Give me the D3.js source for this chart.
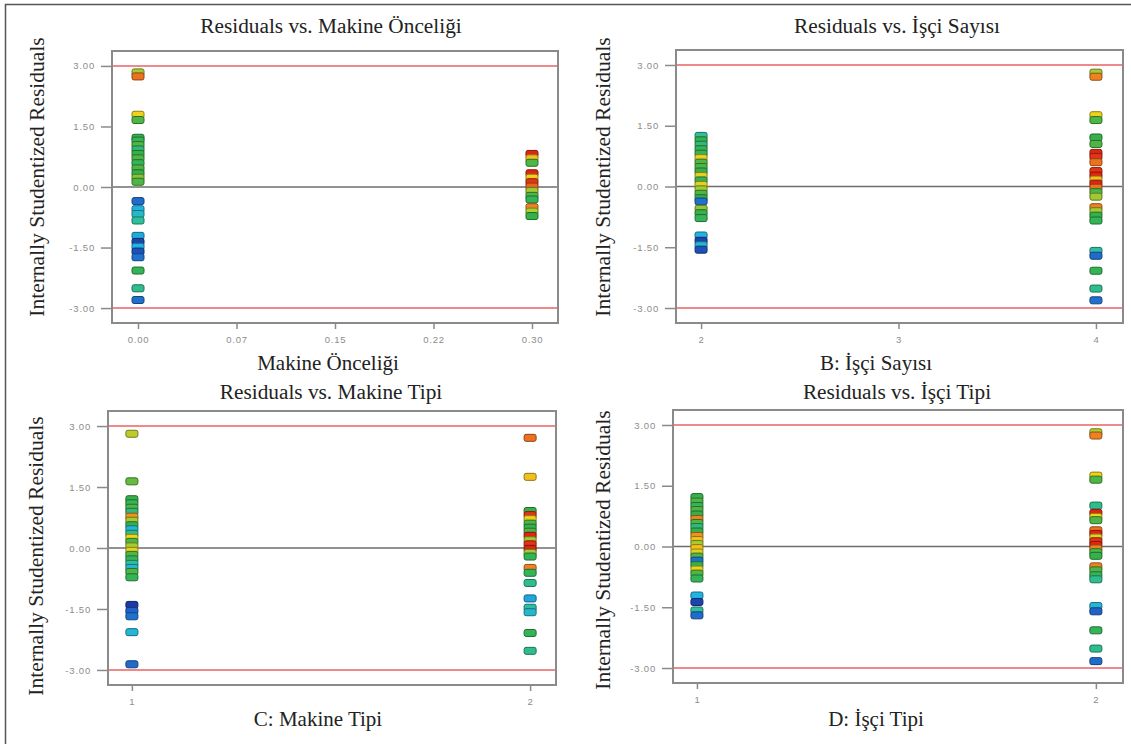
<!DOCTYPE html>
<html>
<head>
<meta charset="utf-8">
<script src="https://cdn.jsdelivr.net/npm/d3@7"></script>
<style>
  body { margin: 0; background: #fff; }
  text { font-family: "Liberation Serif", "Times New Roman", serif; }
  .tick text { font-family: "Liberation Sans", Arial, sans-serif; }
</style>
</head>
<body>
<svg id="chart" width="1131" height="744"></svg>
<script>
// shared y axis
const yTickValues = [-3, -1.5, 0, 1.5, 3];
const yTickLabels = ['-3.00', '-1.50', '0.00', '1.50', '3.00'];
const limitValues = [-3, 3];
const yTitle = 'Internally Studentized Residuals';

const titles = ['Residuals vs. Makine Önceliği', 'Residuals vs. İşçi Sayısı',
  'Residuals vs. Makine Tipi', 'Residuals vs. İşçi Tipi'];
const xTitles = ['Makine Önceliği', 'B: İşçi Sayısı', 'C: Makine Tipi', 'D: İşçi Tipi'];

const prioTicks = [0, 0.075, 0.15, 0.225, 0.3];
const prioTickLabels = ['0.00', '0.07', '0.15', '0.22', '0.30'];
const workerTicks = [2, 3, 4];
const workerTickLabels = ['2', '3', '4'];
const typeTicks = [1, 2];
const typeTickLabels = ['1', '2'];

// [residual, colour level (0 = low response, 1 = high)]
const prioLow = [[2.84, .66], [2.74, .9], [1.79, .78], [1.66, .55], [1.22, .52], [1.15, .5], [1.04, .55],
  [0.93, .45], [0.82, .52], [0.71, .55], [0.59, .5], [0.46, .55], [0.34, .52], [0.23, .62], [0.13, .55],
  [-0.35, .14], [-0.55, .28], [-0.67, .32], [-0.83, .4], [-1.21, .26], [-1.36, .05], [-1.48, .28],
  [-1.60, .08], [-1.74, .15], [-2.07, .5], [-2.51, .42], [-2.80, .15]];
const prioHigh = [[0.82, 1], [0.71, .8], [0.60, .55], [0.34, 1], [0.23, .78], [0.12, .98], [0.01, .92],
  [-0.10, .65], [-0.22, .55], [-0.31, .5], [-0.50, .88], [-0.61, .68], [-0.72, .52]];

const workers2 = [[1.25, .4], [1.14, .52], [1.03, .45], [0.92, .5], [0.81, .5], [0.70, .78], [0.59, .55],
  [0.48, .55], [0.37, .52], [0.26, .76], [0.15, .5], [0.04, .76], [-0.07, .66], [-0.18, .55], [-0.29, .52],
  [-0.37, .15], [-0.55, .64], [-0.66, .52], [-0.78, .5], [-1.21, .28], [-1.34, .05], [-1.45, .3], [-1.56, .08]];
const workers4 = [[2.81, .66], [2.71, .88], [1.76, .78], [1.64, .55], [1.21, .52], [1.05, .55], [0.83, 1],
  [0.73, .98], [0.60, .9], [0.38, .98], [0.27, 1], [0.17, .8], [0.07, 1], [-0.03, .9], [-0.14, .55],
  [-0.25, .65], [-0.51, .88], [-0.61, .66], [-0.72, .52], [-0.84, .5], [-1.59, .38], [-1.71, .14],
  [-2.08, .5], [-2.52, .42], [-2.81, .15]];

const machine1 = [[2.81, .7], [1.64, .58], [1.20, .52], [1.10, .5], [0.99, .55], [0.89, .45], [0.77, .86],
  [0.67, .66], [0.56, .52], [0.46, .3], [0.35, .42], [0.25, .78], [0.15, .55], [0.04, .66], [-0.07, .76],
  [-0.17, .55], [-0.28, .5], [-0.39, .4], [-0.49, .3], [-0.59, .55], [-0.72, .5], [-1.40, .03],
  [-1.55, .12], [-1.68, .15], [-2.07, .3], [-2.86, .14]];
const machine2 = [[2.71, .9], [1.75, .8], [0.91, .52], [0.81, .98], [0.71, .78], [0.60, .55], [0.50, .52],
  [0.40, .55], [0.30, 1], [0.19, .66], [0.09, .98], [-0.02, 1], [-0.12, .66], [-0.21, .5], [-0.49, .88],
  [-0.61, .5], [-0.86, .42], [-1.24, .25], [-1.47, .38], [-1.58, .32], [-2.09, .5], [-2.53, .42]];

const workerType1 = [[1.22, .52], [1.11, .55], [1.00, .5], [0.90, .55], [0.79, .52], [0.68, .88], [0.58, .55],
  [0.48, .45], [0.37, .52], [0.26, .86], [0.16, .8], [0.06, .66], [-0.04, .8], [-0.15, .76], [-0.25, .55],
  [-0.35, .15], [-0.46, .52], [-0.57, .78], [-0.67, .55], [-0.79, .5], [-1.21, .28], [-1.37, .05],
  [-1.58, .4], [-1.70, .14]];
const workerType2 = [[2.82, .68], [2.74, .88], [1.75, .78], [1.65, .55], [1.01, .42], [0.83, 1], [0.73, .78],
  [0.65, .55], [0.40, .9], [0.31, 1], [0.22, .76], [0.13, .98], [0.04, 1], [-0.05, .88], [-0.14, .55],
  [-0.23, .52], [-0.49, .88], [-0.59, .55], [-0.71, .5], [-0.81, .42], [-1.47, .3], [-1.60, .12],
  [-2.07, .5], [-2.52, .42], [-2.83, .14]];

// colours like the design-expert run colouring
const jet = d3.scaleLinear()
  .domain([0, .12, .28, .4, .52, .66, .78, .88, 1])
  .range(['#1b2c9c', '#1f62c8', '#22b4e0', '#2fbf9a', '#35b04a', '#a6ca32', '#efd11e', '#ee8222', '#df2414']);

const panels = [
  {left: 112, top: 51, w: 446, h: 272, xDomain: [-0.0198, 0.3198], ticks: prioTicks, tickLabels: prioTickLabels,
    levels: [0, 0.3], groups: [prioLow, prioHigh], cx: 331, titleY: 33, xTitleX: 328, xTitleY: 370, yTitleX: 36, yTitleY: 177},
  {left: 676, top: 50, w: 447, h: 273, xDomain: [1.873, 4.137], ticks: workerTicks, tickLabels: workerTickLabels,
    levels: [2, 4], groups: [workers2, workers4], cx: 897, titleY: 33, xTitleX: 876, xTitleY: 370, yTitleX: 602, yTitleY: 177},
  {left: 108, top: 411, w: 448, h: 274, xDomain: [0.94, 2.065], ticks: typeTicks, tickLabels: typeTickLabels,
    levels: [1, 2], groups: [machine1, machine2], cx: 331, titleY: 399, xTitleX: 318, xTitleY: 726, yTitleX: 35, yTitleY: 556},
  {left: 673, top: 410, w: 450, h: 273, xDomain: [0.94, 2.068], ticks: typeTicks, tickLabels: typeTickLabels,
    levels: [1, 2], groups: [workerType1, workerType2], cx: 897, titleY: 399, xTitleX: 876, xTitleY: 726, yTitleX: 602, yTitleY: 550}
];

const svg = d3.select('#chart');

// outer border of the figure
svg.append('path')
  .attr('d', 'M5.5,744 V4.5 H1131')
  .attr('fill', 'none')
  .attr('stroke', '#555')
  .attr('stroke-width', 1.5);

panels.forEach((p, i) => {
  const x = d3.scaleLinear().domain(p.xDomain).range([p.left, p.left + p.w]);
  const y = d3.scaleLinear().domain([-3.37, 3.37]).range([p.top + p.h, p.top]);
  const g = svg.append('g');

  // y axis
  const yAxis = g.append('g')
    .attr('transform', 'translate(' + p.left + ',0)')
    .call(d3.axisLeft(y).tickValues(yTickValues).tickFormat((d, k) => yTickLabels[k]).tickSize(11).tickPadding(6));
  yAxis.select('.domain').remove();

  // x axis
  const xAxis = g.append('g')
    .attr('transform', 'translate(0,' + (p.top + p.h) + ')')
    .call(d3.axisBottom(x).tickValues(p.ticks).tickFormat((d, k) => p.tickLabels[k]).tickSize(6).tickPadding(7));
  xAxis.select('.domain').remove();

  g.selectAll('.tick line').attr('stroke', '#8a8a8a').attr('stroke-width', 1.5);
  g.selectAll('.tick text')
    .attr('fill', '#8c8c8c')
    .style('font-size', '9.5px')
    .style('letter-spacing', '0.8px');

  // zero line and +-3 limits
  g.append('line')
    .attr('x1', p.left).attr('x2', p.left + p.w)
    .attr('y1', y(0)).attr('y2', y(0))
    .attr('stroke', '#6e6e6e').attr('stroke-width', 1.5);
  g.selectAll('.limit')
    .data(limitValues)
    .enter()
    .append('line')
    .attr('x1', p.left).attr('x2', p.left + p.w)
    .attr('y1', d => y(d)).attr('y2', d => y(d))
    .attr('stroke', '#f08a8a').attr('stroke-width', 2);

  // frame
  g.append('rect')
    .attr('x', p.left).attr('y', p.top)
    .attr('width', p.w).attr('height', p.h)
    .attr('fill', 'none')
    .attr('stroke', '#8a8a8a').attr('stroke-width', 2);

  // points
  p.groups.forEach((grp, j) => {
    g.selectAll('.pt' + j)
      .data(grp)
      .enter()
      .append('rect')
      .attr('x', x(p.levels[j]) - 6)
      .attr('y', d => y(d[0]) - 3.5)
      .attr('width', 12).attr('height', 7)
      .attr('rx', 2)
      .attr('fill', d => jet(d[1]))
      .attr('stroke', d => d3.color(jet(d[1])).darker(1.4))
      .attr('stroke-width', 1);
  });

  // titles
  g.append('text')
    .attr('x', p.cx).attr('y', p.titleY)
    .attr('text-anchor', 'middle')
    .style('font-size', '21.3px')
    .attr('fill', '#222')
    .text(titles[i]);
  g.append('text')
    .attr('x', p.xTitleX).attr('y', p.xTitleY)
    .attr('text-anchor', 'middle')
    .style('font-size', '21px')
    .attr('fill', '#222')
    .text(xTitles[i]);
  g.append('text')
    .attr('transform', 'translate(' + p.yTitleX + ',' + p.yTitleY + ') rotate(-90)')
    .attr('text-anchor', 'middle')
    .attr('dy', '0.35em')
    .style('font-size', '21.5px')
    .attr('fill', '#222')
    .text(yTitle);
});
</script>
</body>
</html>
